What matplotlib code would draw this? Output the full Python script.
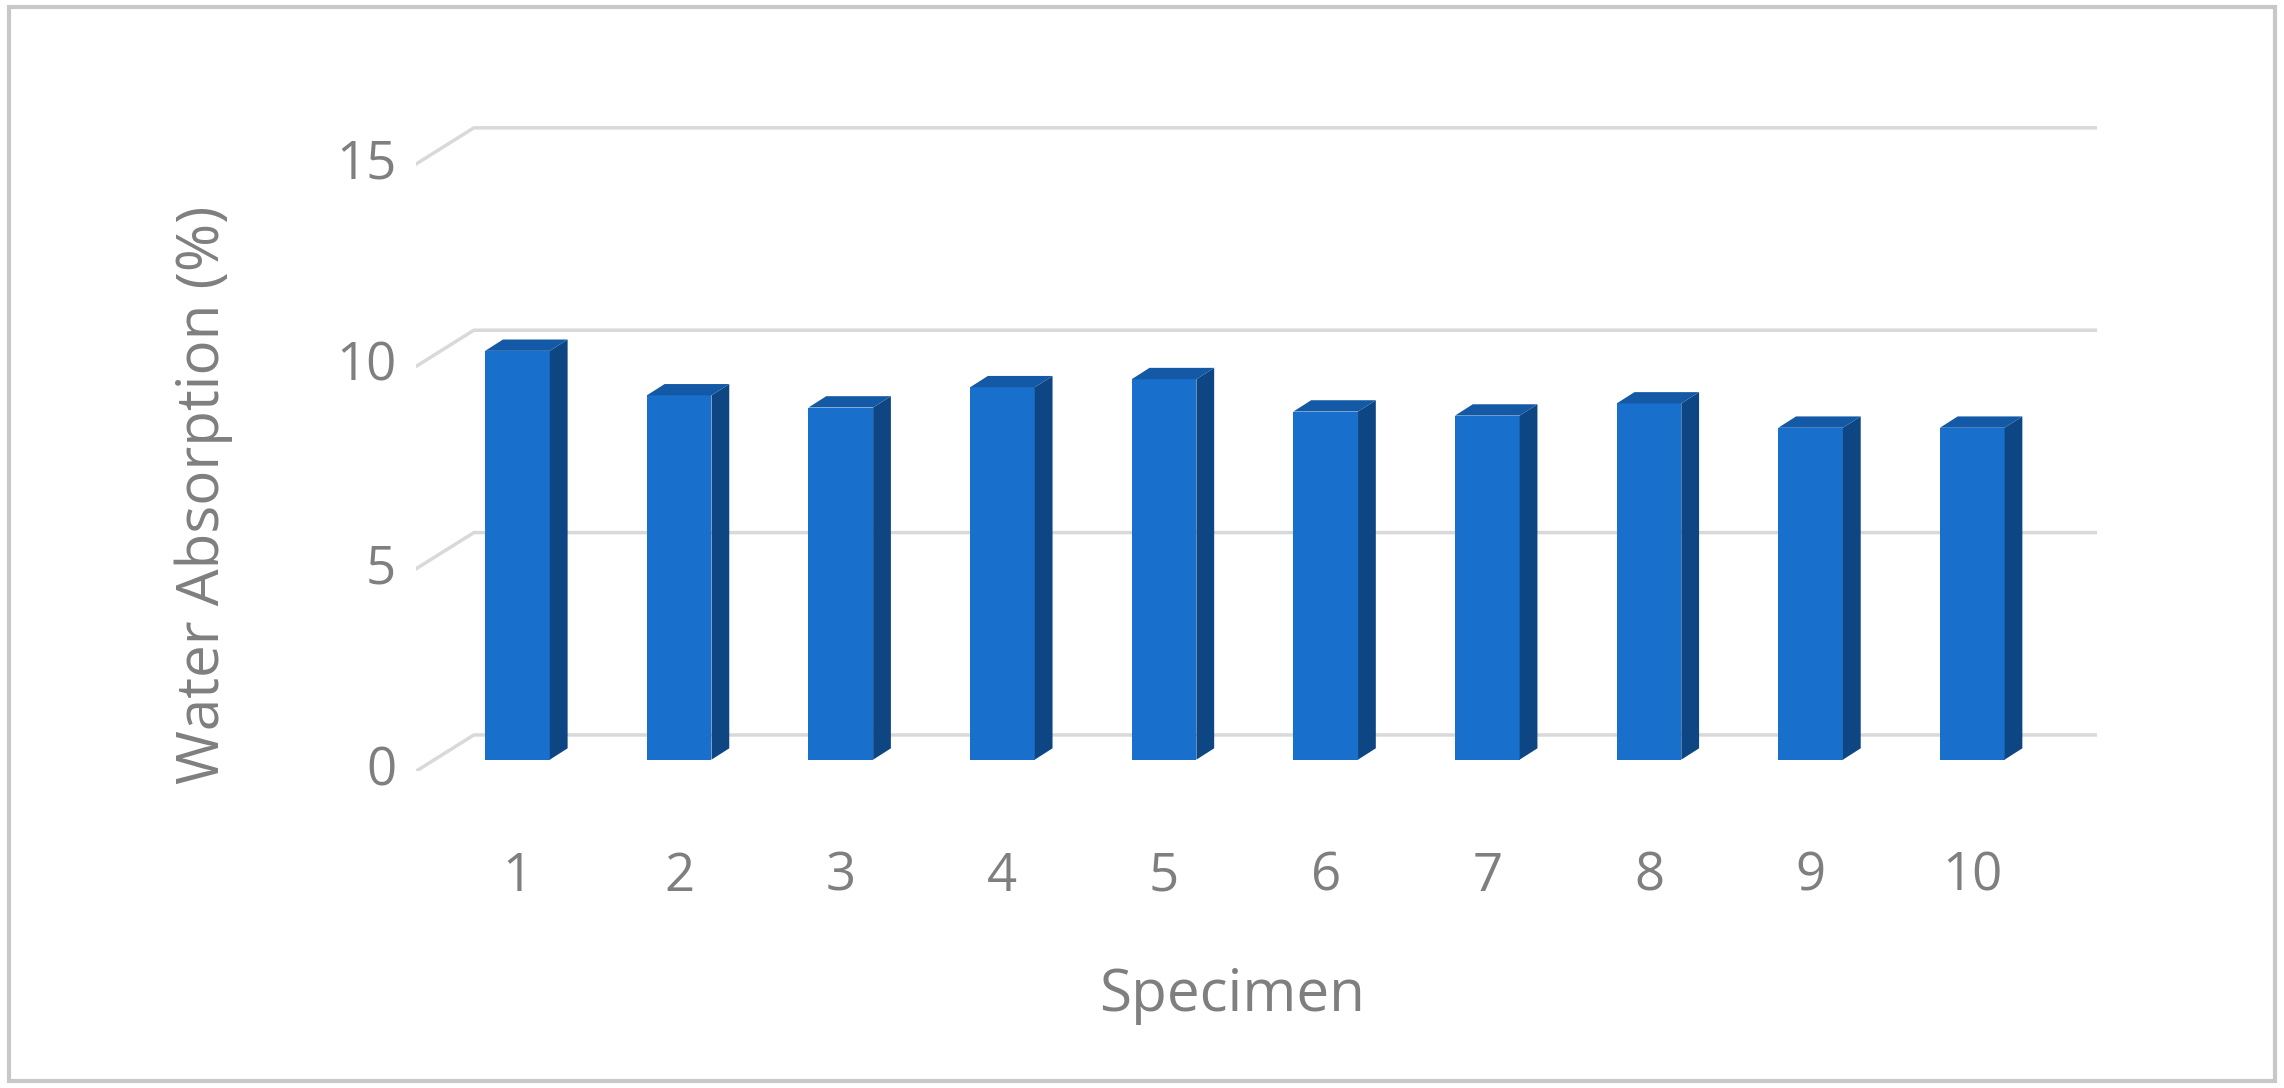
import matplotlib.pyplot as plt
from matplotlib.patches import Polygon, Rectangle

specimens = ['1', '2', '3', '4', '5', '6', '7', '8', '9', '10']
absorption = [10.1, 9.0, 8.7, 9.2, 9.4, 8.6, 8.5, 8.8, 8.2, 8.2]
yticks = [0, 5, 10, 15]

gray = '#7f7f7f'
front_c = '#1870cc'
side_c = '#0e4684'
top_c = '#1459a6'

fig = plt.figure(figsize=(22.84, 10.88), dpi=100)
fig.patches.append(Rectangle((0.004, 0.006), 0.992, 0.988, transform=fig.transFigure,
                             fill=False, edgecolor='#c8c8c8', linewidth=3))
ax = fig.add_axes([0.182, 0.291, 0.736, 0.593])
ax.set_xlim(0.37, 10.77)
ax.set_ylim(-0.29, 15.65)
ax.axis('off')

# back wall gridlines with slanted floor edge
gx0, gdx, gdy = 0.37, 0.36, 0.9
for v in yticks:
    ax.plot([gx0, gx0 + gdx, 10.77], [v - 0.29, v + 0.61, v + 0.61],
            color='#d9d9d9', linewidth=2.5, zorder=1)
    ax.text(gx0 - 0.12, v - 0.3, str(v), ha='right', va='center',
            fontsize=38, color=gray, family='Open Sans')

# pseudo 3d bars
w, dx, dy = 0.4, 0.11, 0.28
for i, val in enumerate(absorption):
    x = i + 1
    ax.add_patch(Rectangle((x - w / 2, 0), w, val, facecolor=front_c, edgecolor='none', zorder=3))
    ax.add_patch(Polygon([(x + w / 2, 0), (x + w / 2 + dx, dy), (x + w / 2 + dx, val + dy),
                          (x + w / 2, val)], facecolor=side_c, edgecolor='none', zorder=3))
    ax.add_patch(Polygon([(x - w / 2, val), (x - w / 2 + dx, val + dy), (x + w / 2 + dx, val + dy),
                          (x + w / 2, val)], facecolor=top_c, edgecolor='none', zorder=3))
    ax.text(x, -2.9, specimens[i], ha='center', va='center', fontsize=38, color=gray,
            family='Open Sans')

fig.text(0.5395, 0.085, 'Specimen', ha='center', va='center', fontsize=42, color=gray,
         family='Open Sans')
fig.text(0.089, 0.545, 'Water Absorption (%)', ha='center', va='center', rotation=90,
         fontsize=42, color=gray, family='Open Sans')

fig.savefig('out.png', dpi=100)
